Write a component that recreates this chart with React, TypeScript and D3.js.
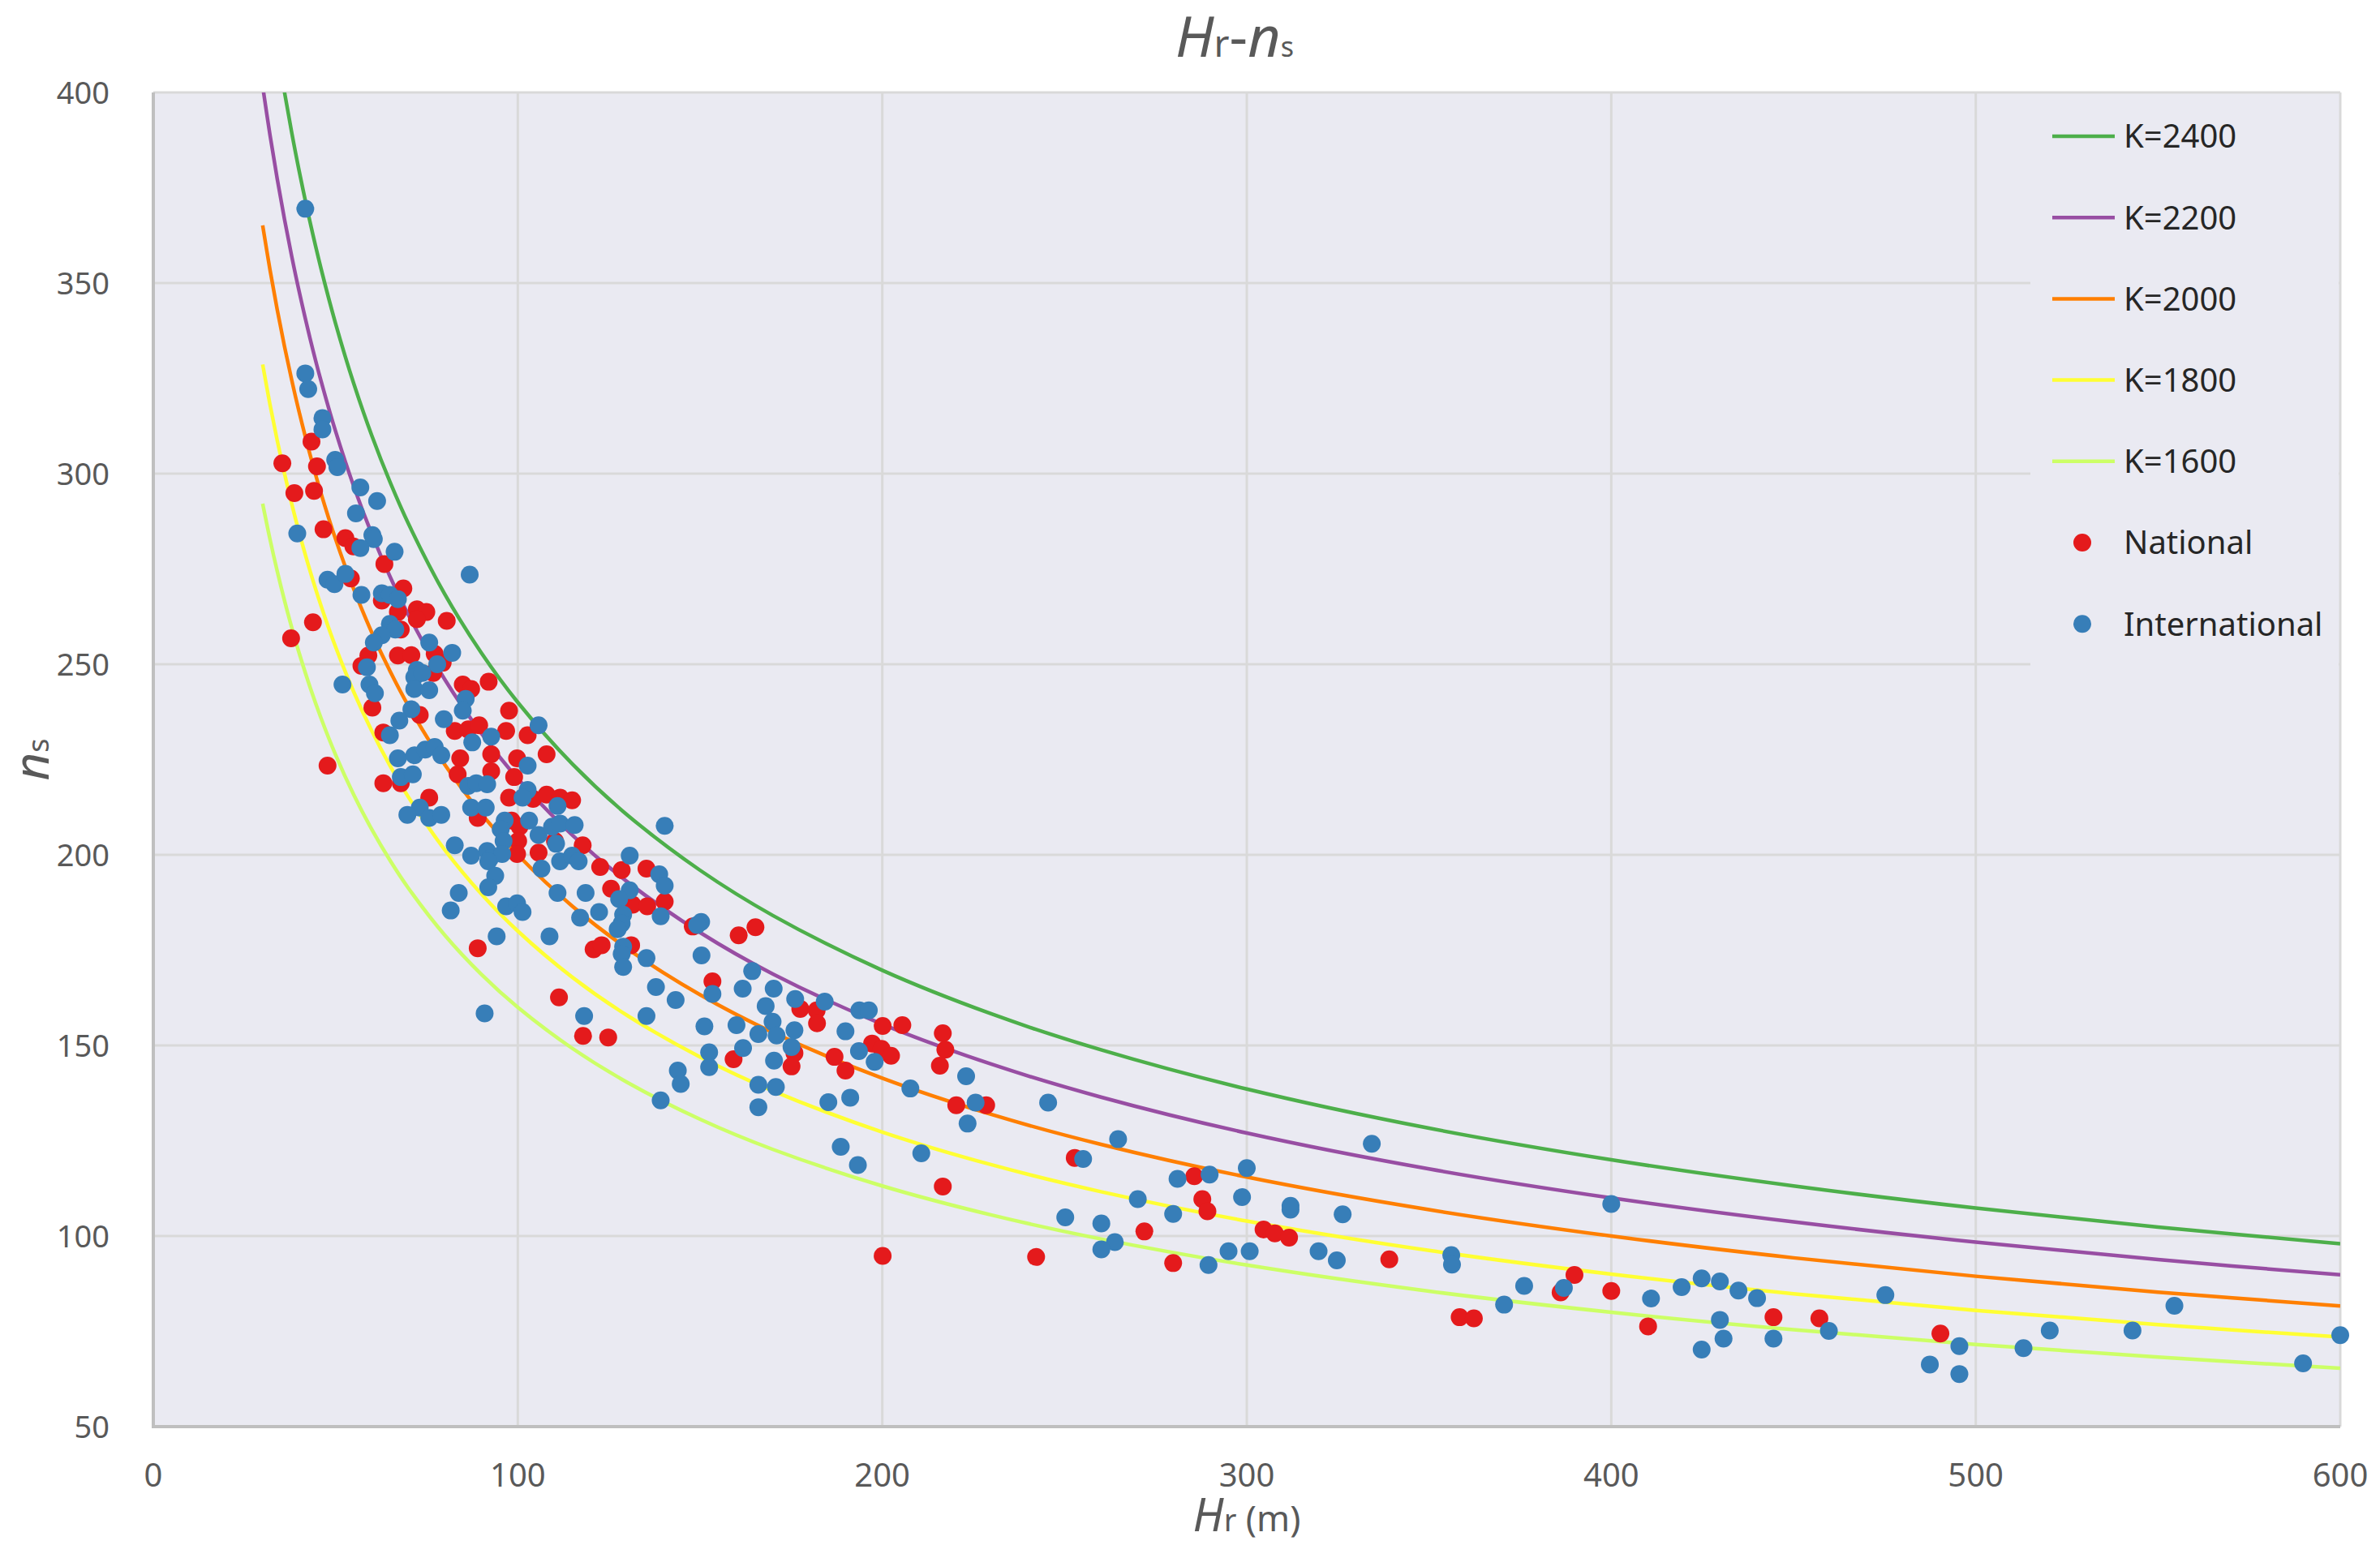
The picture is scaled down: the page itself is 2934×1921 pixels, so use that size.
import { curveCatmullRom, line as d3Line, scaleLinear } from "d3";

// ---- data ----
const xTicks = [0, 100, 200, 300, 400, 500, 600];
const yTicks = [50, 100, 150, 200, 250, 300, 350, 400];

// model curves: ns = K / sqrt(Hr), drawn from Hr = 30 to 600
const curveK = [2400, 2200, 2000, 1800, 1600];
const curveColors = ["#4DAF4A", "#984EA3", "#FF7F00", "#FFFF33", "#CCFF66"];
const curveH = [30, 32, 34, 36, 38, 40, 43, 46, 50, 55, 60, 65, 70, 80, 90, 100, 115, 130, 150, 170, 200, 230, 260, 300, 350, 400, 450, 500, 550, 600];

// [Hr, ns]
const national: [number, number][] = [
  [43.4, 308.4], [35.4, 302.7], [44.9, 301.9], [38.7, 294.9], [44.1, 295.5], [46.7, 285.4], [52.7, 283.1],
  [54.9, 280.9], [63.4, 276.3], [54.2, 272.5], [68.6, 269.9],
  [62.7, 266.7], [67.1, 263.7], [72.3, 264.4], [74.9, 263.7], [72.3, 261.8], [80.5, 261.4], [43.8, 261.0],
  [37.8, 256.8], [67.9, 259.1], [67.1, 252.3], [70.8, 252.4], [77.2, 252.7], [79.4, 250.4], [59.0, 252.3],
  [57.1, 249.6], [76.8, 247.7], [84.9, 244.7], [87.2, 243.5], [92.0, 245.4], [60.1, 238.6], [97.6, 237.8],
  [73.1, 236.7], [82.7, 232.5], [86.4, 232.9], [89.4, 234.0], [96.8, 232.5], [102.7, 231.4], [63.1, 232.1],
  [107.9, 226.4], [84.2, 225.3], [92.7, 226.4], [99.8, 225.3], [83.5, 221.1], [92.7, 221.9], [99.0, 220.4],
  [63.1, 218.8], [67.9, 218.8], [97.6, 215.0], [104.2, 214.7], [107.9, 215.8], [111.6, 215.0], [75.7, 215.0],
  [89.0, 209.7], [98.3, 209.0], [100.5, 207.4], [110.2, 203.6], [100.1, 203.6], [99.8, 200.2], [105.7, 200.6],
  [89.0, 175.5], [47.8, 223.4], [111.3, 162.6],
  [114.9, 214.3], [117.8, 202.5], [122.6, 196.8], [128.5, 196.0], [135.3, 196.4], [125.6, 191.1], [131.5, 186.9],
  [135.5, 186.5], [140.3, 187.7], [120.8, 175.2], [123.0, 176.3], [131.1, 176.3], [148.0, 181.2], [160.6, 178.9],
  [165.2, 181.0], [153.4, 166.8], [177.5, 159.6], [182.0, 159.2],
  [117.9, 152.5], [124.8, 152.1], [175.9, 148.0], [175.1, 144.5], [182.1, 155.8], [197.2, 150.5], [199.8, 149.1],
  [202.4, 147.3], [200.1, 155.1], [200.1, 94.8], [186.9, 147.0], [189.9, 143.4], [159.2, 146.4],
  [205.5, 155.3], [216.6, 153.2], [217.3, 148.9], [215.8, 144.7], [220.3, 134.3], [228.5, 134.3], [252.8, 120.5],
  [216.6, 113.0], [285.6, 115.7], [287.8, 109.7], [289.2, 106.5], [271.9, 101.2], [242.2, 94.5], [279.8, 92.9],
  [304.6, 101.7], [307.7, 100.7], [311.6, 99.6], [339.1, 93.9],
  [358.4, 78.7], [362.3, 78.4], [386.1, 85.2], [389.9, 89.8], [400.0, 85.6], [410.1, 76.3], [444.5, 78.7],
  [457.1, 78.4], [490.3, 74.4],
];

const international: [number, number][] = [
  [41.7, 369.5], [41.7, 326.3], [42.5, 322.2], [46.4, 314.6], [46.4, 311.6], [49.9, 303.6], [50.5, 301.7],
  [56.8, 296.4], [61.4, 292.8], [55.6, 289.6], [39.5, 284.3], [60.1, 283.9], [60.5, 282.8], [56.8, 280.5],
  [66.2, 279.5], [86.8, 273.5], [47.8, 272.2], [49.7, 271.0], [52.7, 273.7],
  [57.1, 268.2], [62.7, 268.6], [64.9, 268.2], [67.1, 267.1], [64.9, 260.6], [66.4, 259.1], [62.7, 257.6],
  [60.5, 255.7], [75.7, 255.7], [82.0, 253.0], [58.6, 249.2], [77.9, 250.0], [72.3, 248.5], [71.6, 246.6],
  [73.8, 247.7], [51.9, 244.7], [59.3, 244.7], [71.6, 243.5], [75.7, 243.2], [60.8, 242.4], [85.7, 240.9],
  [84.9, 237.8], [70.8, 238.2], [79.7, 235.6], [105.7, 234.0], [67.5, 235.2], [64.9, 231.4], [92.7, 231.0],
  [87.5, 229.5], [102.7, 223.4], [67.1, 225.3], [71.6, 226.1], [74.6, 227.6], [77.2, 228.3], [79.0, 226.1],
  [67.9, 220.4], [71.2, 221.1], [86.4, 218.1], [88.6, 218.8], [91.6, 218.5], [102.7, 217.0], [101.3, 215.0],
  [110.9, 212.8], [73.1, 212.4], [69.7, 210.5], [75.7, 209.7], [79.0, 210.5], [87.2, 212.4], [91.2, 212.4],
  [96.4, 209.0], [103.1, 209.0], [95.3, 206.7], [105.7, 205.2], [109.4, 207.4], [111.6, 208.2], [96.1, 203.6],
  [110.5, 202.9], [82.7, 202.5], [87.2, 199.8], [91.6, 201.0], [92.4, 199.1], [95.7, 200.2], [91.9, 198.3],
  [106.5, 196.4], [111.6, 198.3], [93.8, 194.5], [91.9, 191.5], [83.8, 190.0], [110.9, 190.0], [81.6, 185.4],
  [96.8, 186.5], [99.8, 187.3], [101.3, 185.0], [94.2, 178.6], [108.7, 178.6], [90.9, 158.4],
  [115.6, 207.8], [114.9, 199.8], [116.7, 198.3], [118.6, 190.0], [130.7, 199.8], [138.8, 194.9], [140.3, 191.9],
  [130.7, 190.7], [127.8, 188.4], [139.2, 183.9], [122.3, 185.0], [117.1, 183.5], [128.9, 184.3], [128.5, 182.0],
  [127.4, 180.5], [128.9, 175.9], [128.5, 174.0], [128.9, 170.6], [135.3, 172.9], [150.3, 182.4], [149.2, 181.6],
  [150.4, 173.6], [164.3, 169.5], [153.4, 163.5], [137.9, 165.3], [143.3, 161.9], [161.7, 164.9], [170.2, 164.9],
  [168.0, 160.3], [176.1, 162.2], [184.2, 161.5], [193.7, 159.2], [196.3, 159.2], [118.2, 157.7], [135.3, 157.7],
  [140.3, 207.6],
  [151.2, 155.0], [160.0, 155.3], [169.9, 156.2], [171.0, 152.6], [166.0, 153.0], [175.9, 154.0], [175.1, 149.6],
  [189.9, 153.7], [193.6, 148.5], [197.9, 145.7], [185.2, 135.1], [191.2, 136.3], [188.6, 123.4], [193.3, 118.6],
  [152.5, 148.2], [152.5, 144.3], [161.8, 149.3], [166.0, 139.7], [170.8, 139.1], [166.0, 133.8], [170.3, 146.0],
  [143.9, 143.4], [144.7, 139.9], [139.2, 135.6],
  [223.0, 141.9], [207.7, 138.7], [225.6, 135.0], [223.4, 129.5], [245.5, 135.0], [210.7, 121.7], [264.7, 125.4],
  [255.1, 120.2], [270.1, 109.7], [281.0, 115.0], [289.8, 116.1], [300.0, 117.8], [298.7, 110.2], [279.8, 105.8],
  [250.2, 104.9], [260.1, 103.3], [263.8, 98.4], [260.1, 96.5], [289.5, 92.4], [295.0, 96.0], [300.8, 96.0],
  [312.0, 106.9], [312.0, 107.9], [326.3, 105.7], [319.7, 96.0], [324.7, 93.6], [334.3, 124.2],
  [356.1, 95.0], [356.3, 92.5], [370.6, 82.0], [376.1, 86.9], [387.0, 86.4], [400.0, 108.4], [410.9, 83.6],
  [419.3, 86.6], [424.8, 88.9], [429.8, 88.1], [434.9, 85.7], [440.0, 83.7], [429.8, 78.0], [430.8, 73.1],
  [424.8, 70.2], [444.5, 73.1], [459.7, 75.1],
  [475.2, 84.5], [495.5, 71.1], [487.4, 66.3], [495.5, 63.8], [513.1, 70.6], [520.3, 75.2], [543.0, 75.2],
  [554.5, 81.7], [589.8, 66.6], [600.0, 74.0],
];

const WIDTH = 2934;
const HEIGHT = 1921;
const PLOT = { left: 189, right: 2885, top: 114, bottom: 1759 };
const RED = "#E41A1C";
const BLUE = "#377EB8";
const BG = "#EAEAF2";
const GRID = "#D9D9D9";
const TEXT = "#595959";
const FONT = "'Noto Sans', 'Open Sans', sans-serif";

export default function App() {
  const x = scaleLinear().domain([0, 600]).range([PLOT.left, PLOT.right]);
  const y = scaleLinear().domain([50, 400]).range([PLOT.bottom, PLOT.top]);

  const curvePath = (k: number) =>
    d3Line<number>()
      .x((h) => x(h))
      .y((h) => y(k / Math.sqrt(h)))
      .curve(curveCatmullRom.alpha(0.5))(curveH) ?? "";

  const legendRows = [
    ...curveK.map((k, i) => ({ label: `K=${k}`, color: curveColors[i], kind: "line" })),
    { label: "National", color: RED, kind: "dot" },
    { label: "International", color: BLUE, kind: "dot" },
  ];

  return (
    <svg
      width={WIDTH}
      height={HEIGHT}
      style={{ position: "absolute", left: 0, top: 0, background: "#fff" }}
      fontFamily={FONT}
    >
      <defs>
        <clipPath id="plot-clip">
          <rect x={PLOT.left} y={PLOT.top} width={PLOT.right - PLOT.left} height={PLOT.bottom - PLOT.top} />
        </clipPath>
      </defs>

      <rect x={PLOT.left} y={PLOT.top} width={PLOT.right - PLOT.left} height={PLOT.bottom - PLOT.top} fill={BG} />

      {xTicks.slice(1, -1).map((t) => (
        <line key={`gx${t}`} x1={x(t)} x2={x(t)} y1={PLOT.top} y2={PLOT.bottom} stroke={GRID} strokeWidth={3} />
      ))}
      {yTicks.slice(1, -1).map((t) => (
        <line key={`gy${t}`} x1={PLOT.left} x2={PLOT.right} y1={y(t)} y2={y(t)} stroke={GRID} strokeWidth={3} />
      ))}
      <line x1={PLOT.left} x2={PLOT.right} y1={PLOT.top} y2={PLOT.top} stroke={GRID} strokeWidth={3} />
      <line x1={PLOT.right} x2={PLOT.right} y1={PLOT.top} y2={PLOT.bottom} stroke={GRID} strokeWidth={3} />

      {/* legend box hides the gridlines behind it */}
      <rect x={2503} y={PLOT.top + 2} width={PLOT.right - 2503 - 2} height={756} fill={BG} />

      <g clipPath="url(#plot-clip)">
        {curveK.map((k, i) => (
          <path key={k} d={curvePath(k)} fill="none" stroke={curveColors[i]} strokeWidth={4.5} strokeLinejoin="round" />
        ))}
      </g>

      <g>
        {national.map(([h, n], i) => (
          <circle key={`r${i}`} cx={x(h)} cy={y(n)} r={11} fill={RED} />
        ))}
        {international.map(([h, n], i) => (
          <circle key={`b${i}`} cx={x(h)} cy={y(n)} r={11} fill={BLUE} />
        ))}
      </g>

      <line x1={PLOT.left} x2={PLOT.left} y1={PLOT.top} y2={PLOT.bottom + 2} stroke="#BFBFBF" strokeWidth={4} />
      <line x1={PLOT.left - 2} x2={PLOT.right} y1={PLOT.bottom} y2={PLOT.bottom} stroke="#BFBFBF" strokeWidth={4} />

      {yTicks.map((t) => (
        <text key={`ty${t}`} x={135} y={y(t)} dy="0.36em" textAnchor="end" fontSize={38} fill={TEXT}>
          {t}
        </text>
      ))}
      {xTicks.map((t) => (
        <text key={`tx${t}`} x={x(t)} y={1833} textAnchor="middle" fontSize={40} fill={TEXT}>
          {t}
        </text>
      ))}

      {/* legend */}
      {legendRows.map((row, i) => {
        const cy = 168 + i * 100.2;
        return (
          <g key={row.label}>
            {row.kind === "line" ? (
              <line x1={2530} x2={2607} y1={cy} y2={cy} stroke={row.color} strokeWidth={4.5} />
            ) : (
              <circle cx={2567} cy={cy} r={11} fill={row.color} />
            )}
            <text x={2618} y={cy} dy="0.36em" fontSize={40} fill="#262626">
              {row.label}
            </text>
          </g>
        );
      })}

      {/* title */}
      <text x={1522} y={70} textAnchor="middle" fill={TEXT} fontSize={70}>
        <tspan fontStyle="italic">H</tspan>
        <tspan fontSize={46}>r</tspan>
        <tspan>-</tspan>
        <tspan fontStyle="italic">n</tspan>
        <tspan fontSize={34}>s</tspan>
      </text>

      {/* axis titles */}
      <text x={1537} y={1888} textAnchor="middle" fill={TEXT} fontSize={56}>
        <tspan fontStyle="italic">H</tspan>
        <tspan fontSize={38}>r</tspan>
        <tspan fontSize={44}> (m)</tspan>
      </text>
      <text transform={`translate(60, ${(PLOT.top + PLOT.bottom) / 2}) rotate(-90)`} textAnchor="middle" fill={TEXT} fontSize={60}>
        <tspan fontStyle="italic">n</tspan>
        <tspan fontSize={36}>s</tspan>
      </text>
    </svg>
  );
}
